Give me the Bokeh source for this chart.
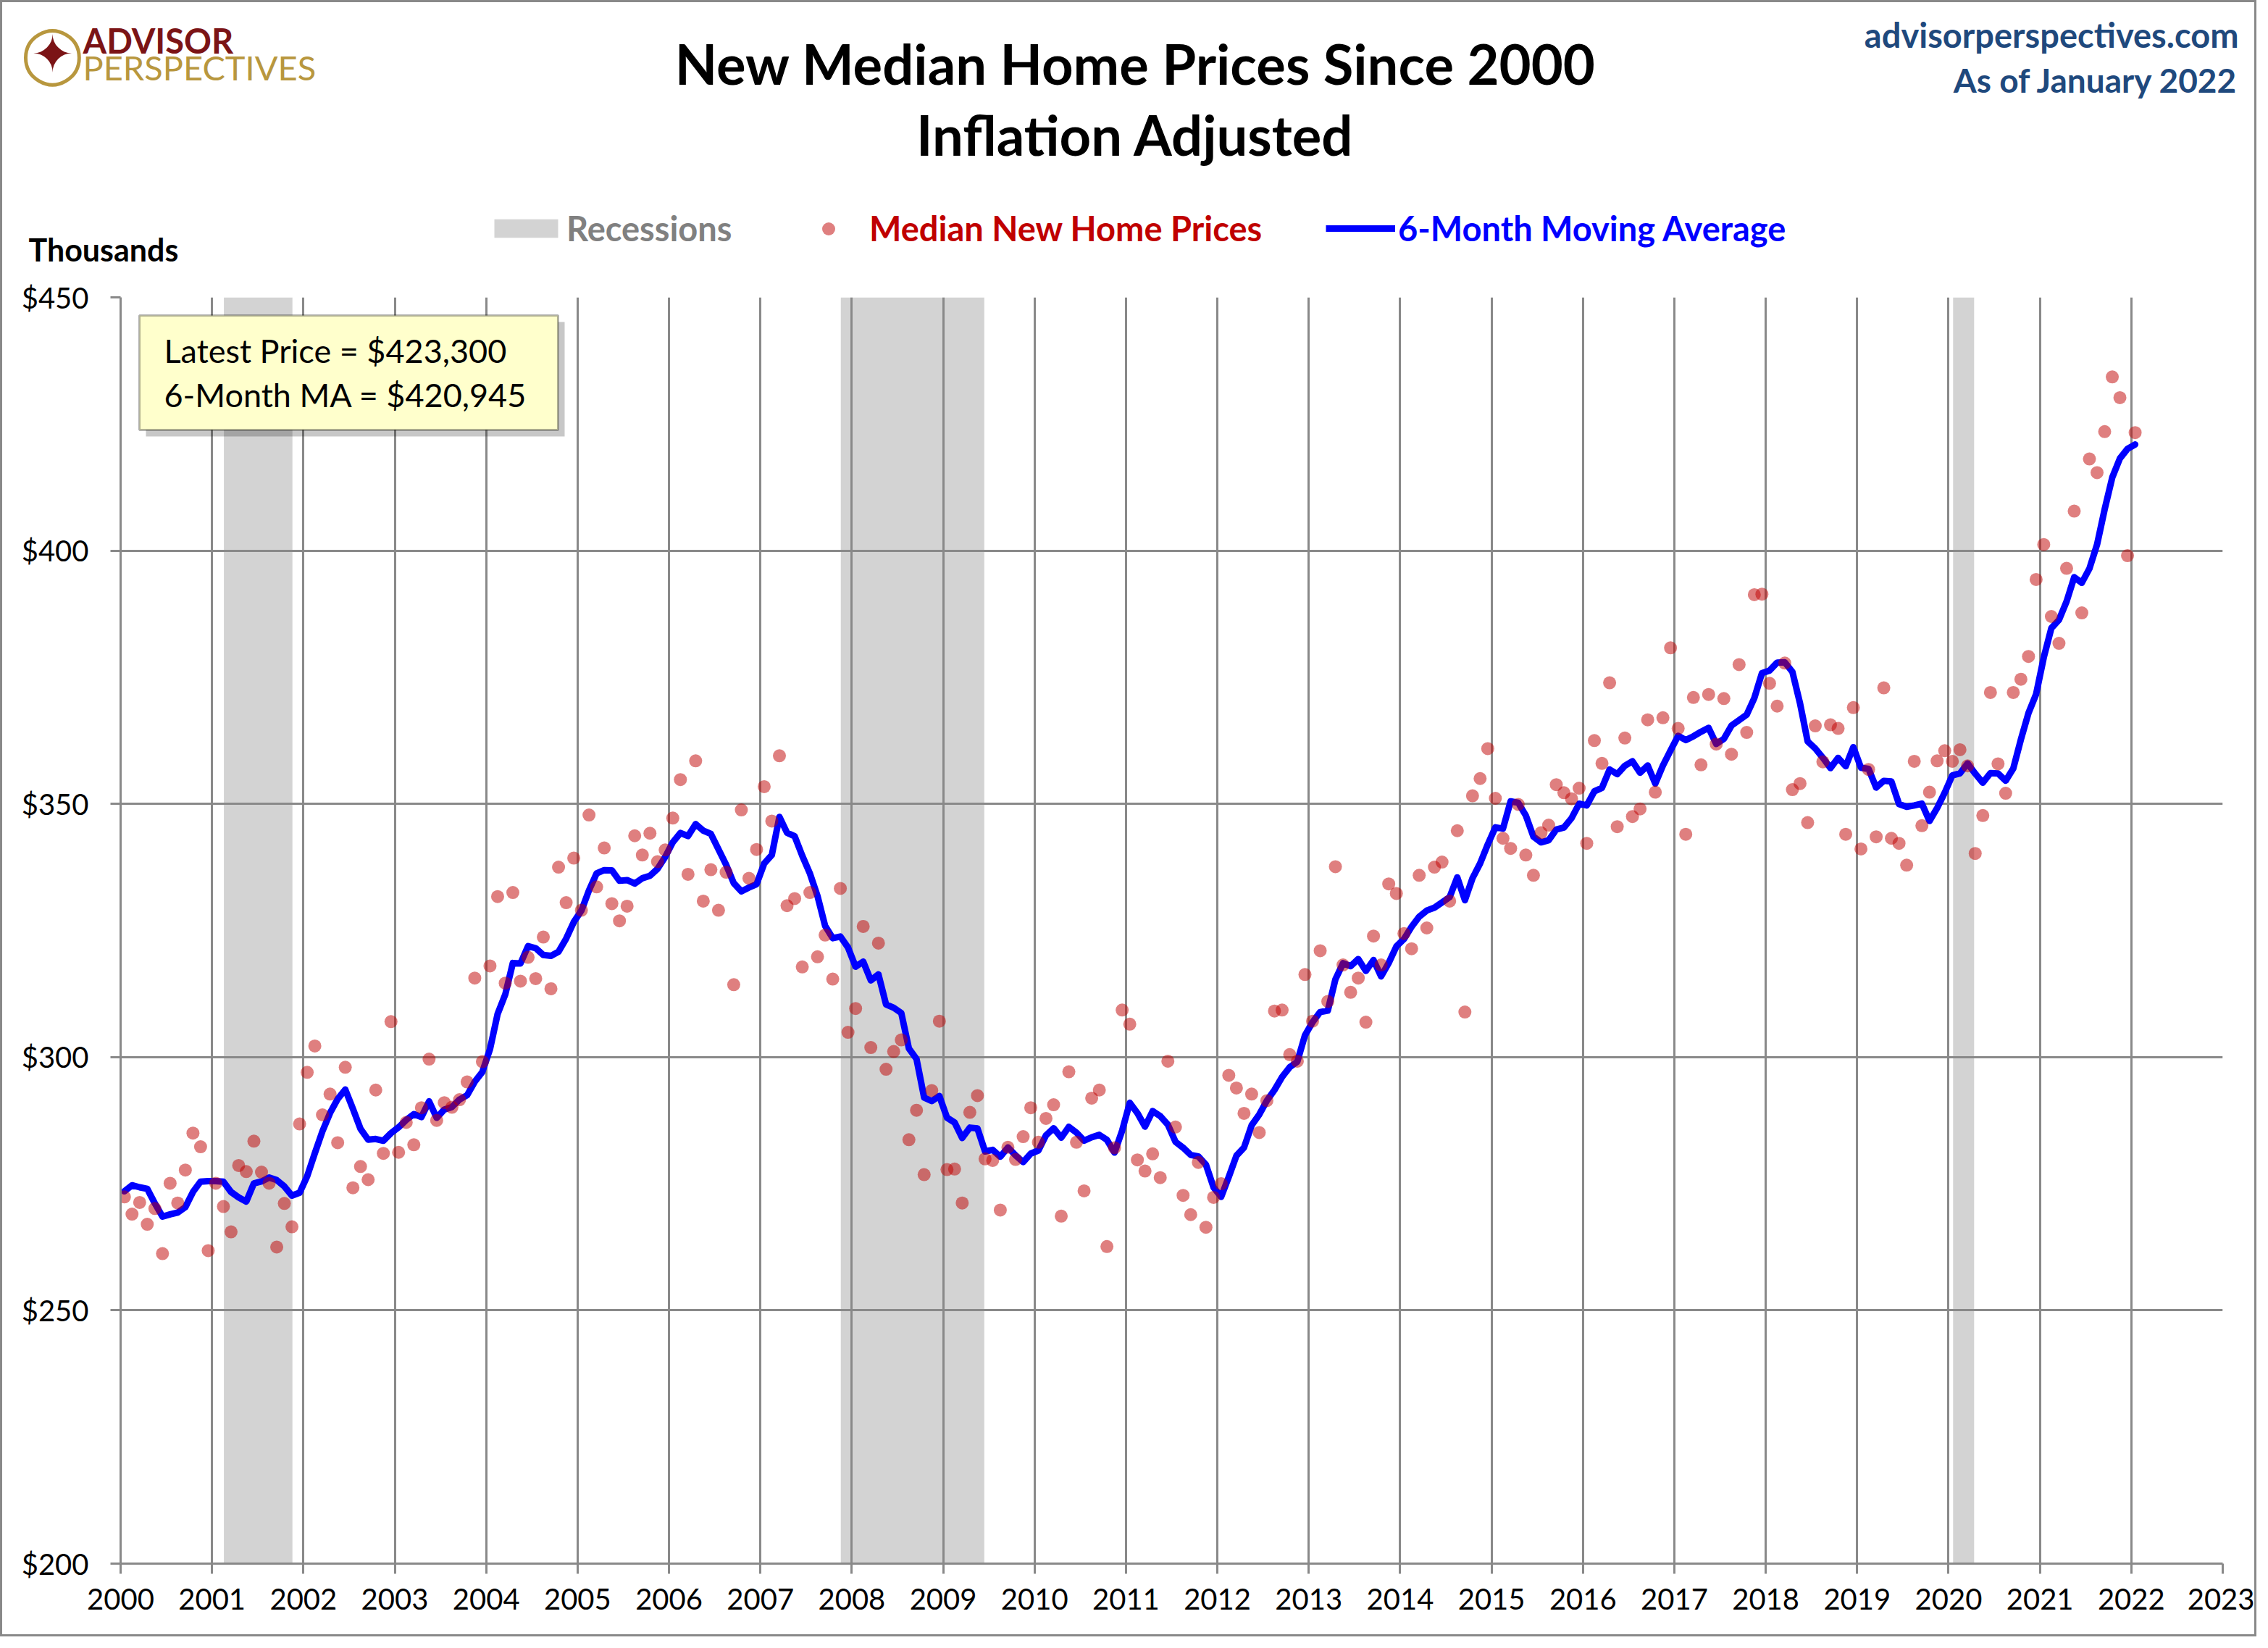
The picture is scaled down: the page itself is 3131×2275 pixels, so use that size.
import numpy as np
import pandas as pd
from bokeh.plotting import figure
from bokeh.layouts import column
from bokeh.models import (Range1d, FixedTicker, NumeralTickFormatter, Label,
                          Legend, LegendItem, BoxAnnotation)
from bokeh.embed import file_html
from bokeh.resources import INLINE

# ---------------- data (thousands of inflation-adjusted dollars) ----------------
price_2000 = [272.4, 269.0, 271.3, 267.0, 270.1, 261.2, 275.1, 271.2, 277.7, 285.0, 282.3, 261.8]
price_2001 = [275.1, 270.5, 265.5, 278.6, 277.4, 283.4, 277.3, 275.1, 262.5, 271.1, 266.5, 286.8]
price_2002 = [297.0, 302.2, 288.6, 292.7, 283.1, 298.0, 274.2, 278.4, 275.8, 293.5, 281.0, 307.0]
price_2003 = [281.2, 287.1, 282.7, 290.0, 299.6, 287.5, 291.0, 290.1, 291.6, 295.1, 315.6, 299.1]
price_2004 = [318.0, 331.7, 314.6, 332.5, 315.0, 319.7, 315.5, 323.7, 313.5, 337.5, 330.5, 339.3]
price_2005 = [329.0, 347.8, 333.6, 341.3, 330.3, 326.9, 329.8, 343.7, 339.9, 344.2, 338.6, 340.9]
price_2006 = [347.2, 354.8, 336.1, 358.5, 330.8, 337.0, 329.0, 336.5, 314.3, 348.8, 335.3, 341.0]
price_2007 = [353.4, 346.6, 359.5, 329.9, 331.3, 317.8, 332.5, 319.8, 324.1, 315.4, 333.3, 304.9]
price_2008 = [309.6, 325.8, 301.9, 322.5, 297.6, 301.1, 303.4, 283.7, 289.5, 276.8, 293.4, 307.1]
price_2009 = [277.8, 277.9, 271.2, 289.1, 292.4, 279.9, 279.6, 269.8, 282.2, 279.8, 284.3, 290.0]
price_2010 = [283.2, 287.9, 290.6, 268.6, 297.1, 283.2, 273.6, 291.9, 293.5, 262.6, 282.1, 309.3]
price_2011 = [306.5, 279.7, 277.5, 280.9, 276.2, 299.2, 286.2, 272.7, 268.9, 279.2, 266.4, 272.3]
price_2012 = [275.0, 296.4, 293.9, 288.9, 292.7, 285.1, 291.4, 309.1, 309.3, 300.5, 299.2, 316.3]
price_2013 = [307.1, 321.0, 311.0, 337.6, 318.2, 312.8, 315.6, 306.9, 323.9, 318.2, 334.2, 332.3]
price_2014 = [324.4, 321.4, 335.9, 325.5, 337.5, 338.5, 330.8, 344.7, 308.9, 351.6, 355.0, 360.9]
price_2015 = [351.1, 343.2, 341.2, 349.9, 339.9, 335.9, 344.3, 345.8, 353.8, 352.2, 351.0, 353.1]
price_2016 = [342.2, 362.5, 358.0, 373.9, 345.5, 363.0, 347.5, 349.0, 366.6, 352.3, 367.0, 380.8]
price_2017 = [364.9, 344.0, 371.0, 357.7, 371.6, 361.8, 370.8, 359.8, 377.5, 364.1, 391.3, 391.4]
price_2018 = [373.8, 369.3, 377.8, 352.8, 354.0, 346.3, 365.4, 358.3, 365.6, 364.9, 344.0, 369.0]
price_2019 = [341.1, 356.8, 343.5, 372.9, 343.2, 342.2, 337.9, 358.4, 345.7, 352.3, 358.5, 360.5]
price_2020 = [358.4, 360.7, 357.5, 340.2, 347.7, 372.0, 357.9, 352.1, 372.0, 374.6, 379.1, 394.3]
price_2021 = [401.2, 387.0, 381.7, 396.5, 407.8, 387.7, 418.1, 415.4, 423.5, 434.3, 430.2, 399.0]
price_2022 = [423.3]

# moving-average values for Jan-May 2000 (their window reaches back into 1999)
ma_first5 = [273.5, 274.7, 274.3, 274.0, 271.1]

# recessions (fractional years)
rec_start = [2001.13, 2007.88, 2020.05]
rec_end = [2001.88, 2009.45, 2020.28]

latest_price = 423300
latest_ma = 420945

year_ticks = list(range(2000, 2024))
value_ticks = [200, 250, 300, 350, 400, 450]

prices = (price_2000 + price_2001 + price_2002 + price_2003 + price_2004 + price_2005 +
          price_2006 + price_2007 + price_2008 + price_2009 + price_2010 + price_2011 +
          price_2012 + price_2013 + price_2014 + price_2015 + price_2016 + price_2017 +
          price_2018 + price_2019 + price_2020 + price_2021 + price_2022)

dates = pd.date_range("2000-01-01", periods=len(prices), freq="MS")
xpos = (dates.year + (dates.month - 0.5) / 12.0).to_numpy()
ma = pd.Series(prices).rolling(6).mean().to_numpy()
ma[:5] = ma_first5

# ---------------- layout constants (page px of the reference) ----------------
BW = 3           # outer border width
O = BW           # page offset of the canvases
WF = 3109        # figure width
H1 = 375         # header height
H2 = 1878        # main figure height
FL, FT, FR, FB = 166, 410, 3068, 2158   # frame edges in page coords
GRAY = "#898989"
FONT = "Lato"
BASE_K = 0.37    # baseline correction (fraction of font size)


def no_align(fig):
    if "frame_align" in type(fig).properties():
        fig.frame_align = False


# ---------------- header figure (titles, logo, legend) ----------------
hdr = figure(frame_width=WF, frame_height=H1, output_backend="svg", toolbar_location=None,
             x_range=Range1d(O, O + WF), y_range=Range1d(O + H1, O),
             x_axis_type=None, y_axis_type=None,
             min_border_left=0, min_border_right=0, min_border_top=0, min_border_bottom=0)
hdr.title = None
hdr.outline_line_color = None
hdr.grid.visible = False
hdr.background_fill_color = "white"
hdr.border_fill_color = "white"
no_align(hdr)


def hlab(text, x, y, size, color, style="bold", align="left", baseline="alphabetic", font=FONT):
    if baseline == "alphabetic":
        y = y - BASE_K * size
    hdr.add_layout(Label(x=x, y=y, text=text,
                         text_font=font, text_font_size=f"{size}px", text_color=color,
                         text_font_style=style, text_align=align, text_baseline=baseline))


hlab("New Median Home Prices Since 2000", 1567, 115, 76, "black", align="center")
hlab("Inflation Adjusted", 1567, 213, 76, "black", align="center")
hlab("advisorperspectives.com", 3090, 65, 47, "#1F497D", align="right")
hlab("As of January 2022", 3090, 127, 46, "#1F497D", align="right")
hlab("Thousands", 39, 360, 43, "black")

# logo
hlab("\u25EF", 72, 72, 78, "#B8973E", style="normal", align="center", baseline="middle", font="DejaVu Sans")
hlab("\u2726", 72, 74, 70, "#7B1416", style="normal", align="center", baseline="middle", font="DejaVu Sans")
hlab("ADVISOR", 114, 73, 47, "#7B1416")
hlab("PERSPECTIVES", 114, 110, 47, "#B8973E", style="normal")

# legend proxies: one-row, coordinate-less renderers styled like the chart's series
nan1 = [np.nan]
rec_proxy = hdr.quad(left=nan1, right=nan1, bottom=nan1, top=nan1, fill_color="#D3D3D3", line_color=None)
dot_proxy = hdr.scatter(x=nan1, y=nan1, size=18, fill_color="#C00000", fill_alpha=0.5, line_color=None)
line_proxy = hdr.line(x=nan1, y=nan1, line_color="#0000FF", line_width=9)

LEG_H = 56
leg_bottom = (O + H1 - 315) - LEG_H / 2


def mk_legend(text, rend, gx, gw, gh, standoff, color):
    lg = Legend(items=[LegendItem(label=text, renderers=[rend])],
                location=(gx - O, leg_bottom), orientation="horizontal",
                border_line_color=None, background_fill_alpha=0.0,
                padding=0, margin=0, spacing=0,
                glyph_width=gw, glyph_height=gh, label_standoff=standoff,
                label_height=LEG_H,
                label_text_font=FONT, label_text_font_style="bold",
                label_text_font_size="47px", label_text_color=color)
    hdr.add_layout(lg)


mk_legend("Recessions", rec_proxy, 671, 110, 32, 1, "#808080")
mk_legend("Median New Home Prices", dot_proxy, 1121, 45, 45, 34, "#C00000")
mk_legend("6-Month Moving Average", line_proxy, 1830, 96, 26, 4, "#0000FF")

# ---------------- main chart ----------------
main_top = O + H1
p = figure(width=WF, height=H2, output_backend="svg", toolbar_location=None,
           x_range=Range1d(year_ticks[0], year_ticks[-1]),
           y_range=Range1d(value_ticks[0], value_ticks[-1]),
           min_border_left=FL - O, min_border_top=FT - main_top,
           min_border_right=WF - (FR - O), min_border_bottom=(main_top + H2) - FB)
p.title = None
p.outline_line_color = None
p.background_fill_color = "white"
p.border_fill_color = "white"
no_align(p)

p.xaxis.ticker = FixedTicker(ticks=year_ticks)
p.yaxis.ticker = FixedTicker(ticks=value_ticks)
p.yaxis.formatter = NumeralTickFormatter(format="$0")
for ax in (p.xaxis[0], p.yaxis[0]):
    ax.axis_line_color = GRAY
    ax.axis_line_width = 3
    ax.major_tick_line_color = GRAY
    ax.major_tick_line_width = 3
    ax.major_tick_out = 14
    ax.major_tick_in = 0
    ax.minor_tick_line_color = None
    ax.major_label_text_font = FONT
    ax.major_label_text_font_size = "40px"
    ax.major_label_text_color = "black"
p.xaxis.major_label_standoff = 20
p.yaxis.major_label_standoff = 30
p.grid.grid_line_color = GRAY
p.grid.grid_line_width = 3

# recessions (drawn below the grid)
rec = p.quad(left=rec_start, right=rec_end, bottom=value_ticks[0], top=value_ticks[-1],
             fill_color="#D3D3D3", line_color=None, level="image")
ma_line = p.line(xpos, ma, line_color="#0000FF", line_width=9, line_join="round", line_cap="round")
dots = p.scatter(xpos, prices, size=18, fill_color="#C00000", fill_alpha=0.5, line_color=None)


def rx(x):
    return x - FL


def ry(y):
    return FB - y


def lab(text, x, y, size, color, style="normal", align="left", baseline="alphabetic", font=FONT):
    if baseline == "alphabetic":
        y = y - BASE_K * size
    p.add_layout(Label(x=rx(x), y=ry(y), x_units="screen", y_units="screen", text=text,
                       text_font=font, text_font_size=f"{size}px", text_color=color,
                       text_font_style=style, text_align=align, text_baseline=baseline))


# info box with shadow
p.add_layout(BoxAnnotation(left=rx(201), right=rx(779), top=ry(444), bottom=ry(602),
                           left_units="screen", right_units="screen",
                           top_units="screen", bottom_units="screen",
                           fill_color="black", fill_alpha=0.22, line_color=None))
p.add_layout(BoxAnnotation(left=rx(192), right=rx(770), top=ry(435), bottom=ry(593),
                           left_units="screen", right_units="screen",
                           top_units="screen", bottom_units="screen",
                           fill_color="#FFFFCC", fill_alpha=1.0, line_color="black", line_width=3))
lab(f"Latest Price = ${latest_price:,}", 226, 500, 45, "black")
lab(f"6-Month MA = ${latest_ma:,}", 226, 561, 45, "black")

layout = column(hdr, p, spacing=0, styles={"border": f"{BW}px solid {GRAY}"})

open("out.html", "w").write(file_html(layout, INLINE))
